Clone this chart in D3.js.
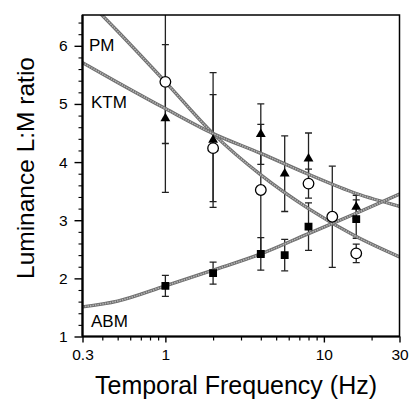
<!DOCTYPE html>
<html><head><meta charset="utf-8">
<script src="https://cdn.jsdelivr.net/npm/d3@7"></script>
<style>
body{margin:0;background:#fff}
svg{display:block}
text{font-family:"Liberation Sans",Arial,Helvetica,sans-serif;fill:#000}
</style></head>
<body><svg id="c" width="411" height="409"></svg>
<script>
// ---- data ----
const freqs = [1, 2, 4, 5.66, 8, 11.3, 16];
const pmVals  = [5.38, 4.24, 3.52, null, 3.63, 3.06, 2.43];
const pmErrLo = [1.06, 0.92, 1.13, null, 0.25, 0.87, 0.16];
const pmErrHi = [1.30, 0.92, 1.13, null, 0.25, 0.87, 0.16];
const ktmVals = [4.75, 4.38, 4.48, 3.80, 4.06, null, 3.23];
const ktmErr  = [1.27, 1.16, 0.52, 0.65, 0.44, null, 0.20];
const abmVals = [1.87, 2.09, 2.42, 2.40, 2.89, null, 3.02];
const abmErr  = [0.18, 0.19, 0.28, 0.27, 0.41, null, 0.33];

const fitFreqs = [0.3, 0.5, 1, 2, 4, 8, 16, 30];
const pmFit  = [6.87, 6.25, 5.38, 4.49, 3.78, 3.20, 2.72, 2.37];
const ktmFit = [5.71, 5.37, 4.92, 4.49, 4.15, 3.79, 3.46, 3.24];
const abmFit = [1.51, 1.61, 1.87, 2.14, 2.42, 2.77, 3.12, 3.45];

const xMajor = [0.3, 1, 10, 30];
const xMajorLabels = ["0.3", "1", "10", "30"];
const xMinor = [0.4,0.5,0.6,0.7,0.8,0.9,2,3,4,5,6,7,8,9,20];
const yMajor = [1, 2, 3, 4, 5, 6];
const yMinor = [1.2,1.4,1.6,1.8,2.2,2.4,2.6,2.8,3.2,3.4,3.6,3.8,4.2,4.4,4.6,4.8,5.2,5.4,5.6,5.8,6.2,6.4];
const seriesNames = ["PM", "KTM", "ABM"];
const xTitle = "Temporal Frequency (Hz)";
const yTitle = "Luminance L:M ratio";

// ---- layout ----
const L = 82.5, R = 399.5, T = 15, B = 336.5;
const svg = d3.select("#c");
svg.append("rect").attr("width",411).attr("height",409).attr("fill","#fff");
const x = d3.scaleLog().domain([0.3, 30]).range([L, R]);
const y = d3.scaleLinear().domain([1, 6.53]).range([B, T]);

svg.append("defs").append("clipPath").attr("id","clip")
  .append("rect").attr("x",L).attr("y",T).attr("width",R-L).attr("height",B-T);

// axes
const gx = svg.append("g").attr("transform",`translate(0,${B})`)
  .call(d3.axisBottom(x).tickValues(xMajor).tickSize(6).tickPadding(6)
        .tickFormat((d,i)=>xMajorLabels[i]));
gx.select(".domain").remove();
gx.selectAll("text").attr("font-size",15.5).attr("font-family","Liberation Sans, Arial, sans-serif");
gx.selectAll("line").attr("stroke","#000").attr("stroke-width",1.4);
const gxm = svg.append("g").attr("transform",`translate(0,${B})`)
  .call(d3.axisBottom(x).tickValues(xMinor).tickSize(4).tickFormat(""));
gxm.select(".domain").remove();
gxm.selectAll("line").attr("stroke","#000").attr("stroke-width",1.2);

const gy = svg.append("g").attr("transform",`translate(${L},0)`)
  .call(d3.axisLeft(y).tickValues(yMajor).tickSize(8).tickPadding(7).tickFormat(d3.format("d")));
gy.select(".domain").remove();
gy.selectAll("text").attr("font-size",15.5).attr("font-family","Liberation Sans, Arial, sans-serif");
gy.selectAll("line").attr("stroke","#000").attr("stroke-width",1.4);
const gym = svg.append("g").attr("transform",`translate(${L},0)`)
  .call(d3.axisLeft(y).tickValues(yMinor).tickSize(4).tickFormat(""));
gym.select(".domain").remove();
gym.selectAll("line").attr("stroke","#000").attr("stroke-width",1.1);

const plot = svg.append("g").attr("clip-path","url(#clip)");

// error bars
const series = [
  {vals: pmVals, lo: pmErrLo, hi: pmErrHi},
  {vals: ktmVals, lo: ktmErr, hi: ktmErr},
  {vals: abmVals, lo: abmErr, hi: abmErr}
];
series.forEach(s=>{
  freqs.forEach((f,i)=>{
    if (s.vals[i]==null) return;
    const cx = x(f), lo = s.vals[i]-s.lo[i], hi = s.vals[i]+s.hi[i];
    plot.append("line").attr("x1",cx).attr("x2",cx).attr("y1",y(lo)).attr("y2",y(hi))
      .attr("stroke","#222").attr("stroke-width",1.3);
    [lo,hi].forEach(v=>{
      plot.append("line").attr("x1",cx-3.5).attr("x2",cx+3.5).attr("y1",y(v)).attr("y2",y(v))
        .attr("stroke","#222").attr("stroke-width",1.3);
    });
  });
});

// fitted curves
const line = d3.line().x(d=>x(d[0])).y(d=>y(d[1])).curve(d3.curveMonotoneX);
[pmFit, ktmFit, abmFit].forEach(fit=>{
  const pts = fitFreqs.map((f,i)=>[f, fit[i]]);
  plot.append("path").attr("d",line(pts)).attr("fill","none").attr("stroke","#6e6e6e").attr("stroke-width",3.4);
  plot.append("path").attr("d",line(pts)).attr("fill","none").attr("stroke","#b4b4b4").attr("stroke-width",1.6)
    .attr("stroke-dasharray","1.5,1");
});

// markers
freqs.forEach((f,i)=>{
  if (pmVals[i]!=null)
    plot.append("circle").attr("cx",x(f)).attr("cy",y(pmVals[i])).attr("r",5.3)
      .attr("fill","#fff").attr("stroke","#000").attr("stroke-width",1.3);
  if (ktmVals[i]!=null)
    plot.append("path").attr("d",d3.symbol(d3.symbolTriangle,42)())
      .attr("transform",`translate(${x(f)},${y(ktmVals[i])})`).attr("fill","#000");
  if (abmVals[i]!=null)
    plot.append("path").attr("d",d3.symbol(d3.symbolSquare,62)())
      .attr("transform",`translate(${x(f)},${y(abmVals[i])})`).attr("fill","#000");
});

// frame
svg.append("rect").attr("x",L).attr("y",T).attr("width",R-L).attr("height",B-T)
  .attr("fill","none").attr("stroke","#000").attr("stroke-width",1.5);
svg.append("line").attr("x1",L).attr("x2",L).attr("y1",T).attr("y2",B).attr("stroke","#000").attr("stroke-width",2.2);
svg.append("line").attr("x1",L).attr("x2",R).attr("y1",B).attr("y2",B).attr("stroke","#000").attr("stroke-width",2.2);

// series labels
const labPos = [[89,51],[91,108],[91,327]];
seriesNames.forEach((n,i)=>{
  svg.append("text").attr("x",labPos[i][0]).attr("y",labPos[i][1]).attr("font-size",17).text(n);
});

// titles
svg.append("text").attr("x",(L+R)/2-5).attr("y",394).attr("text-anchor","middle")
  .attr("font-size",25).text(xTitle);
svg.append("text").attr("transform","translate(34,168) rotate(-90)").attr("text-anchor","middle")
  .attr("font-size",24.5).text(yTitle);
</script></body></html>
